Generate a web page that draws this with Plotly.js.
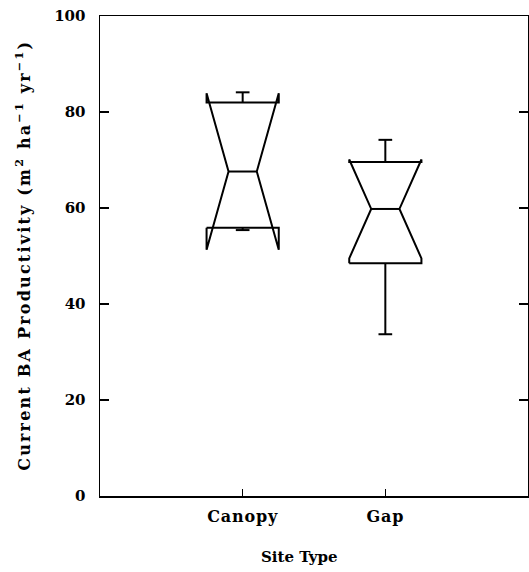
<!DOCTYPE html>
<html>
<head>
<meta charset="utf-8">
<script src="https://cdn.plot.ly/plotly-3.0.1.min.js"></script>
<style>
  html, body { margin: 0; padding: 0; background: #fff; }
  #chart { width: 529px; height: 572px; }
  /* typeset look: slightly open tracking on the value-axis title and the site labels */
  .annotation[data-index="0"] text { letter-spacing: 2.2px; }
  .xtick text { letter-spacing: 0.8px; }
</style>
</head>
<body>
<div id="chart"></div>
<script>
// Basal-area productivity by site type, summarised as notched box plots
const siteTypes   = ["Canopy", "Gap"];
const lowerFence  = [55.4, 33.7];
const q1Values    = [55.9, 48.5];
const medianVals  = [67.6, 59.8];
const q3Values    = [82.0, 69.6];
const upperFence  = [84.1, 74.2];
const notchSpans  = [16.3, 10.3];
const yTickVals   = [0, 20, 40, 60, 80, 100];
const yTickText   = ["0", "20", "40", "60", "80", "100"];

// glyph geometry, in category units of the x axis
const boxHalf = 0.253;   // half the box width
const medHalf = 0.099;   // half the median bar (waist of the notch)
const capHalf = 0.048;   // half the whisker cap

// Outline of one notched box: the notch runs from median - span to
// median + span, flaring past the hinges when it is wider than the box.
function boxPath(i) {
  const c = i;
  const q1 = q1Values[i], q3 = q3Values[i], med = medianVals[i];
  const lf = lowerFence[i], uf = upperFence[i];
  const ln = med - notchSpans[i], un = med + notchSpans[i];
  const L = c - boxHalf, R = c + boxHalf;
  const x = [
    L, L, c - medHalf, L, L, R, R, c + medHalf, R, R, L, null,
    c - medHalf, c + medHalf, null,
    c, c, null, c - capHalf, c + capHalf, null,
    c, c, null, c - capHalf, c + capHalf
  ];
  const y = [
    q1, ln, med, un, q3, q3, un, med, ln, q1, q1, null,
    med, med, null,
    q1, lf, null, lf, lf, null,
    q3, uf, null, uf, uf
  ];
  return {
    type: "scatter",
    mode: "lines",
    name: siteTypes[i],
    x: x,
    y: y,
    connectgaps: false,
    line: { color: "#000", width: 2 },
    hoverinfo: "skip",
    showlegend: false
  };
}

const traces = siteTypes.map((_, i) => boxPath(i));

const serifBold = (size) => ({ family: "DejaVu Serif, serif", size: size, color: "#000", weight: "bold" });

const layout = {
  width: 529,
  height: 572,
  margin: { l: 100, r: 1, t: 16, b: 76 },
  paper_bgcolor: "#fff",
  plot_bgcolor: "#fff",
  font: serifBold(15),
  showlegend: false,
  xaxis: {
    range: [-1, 2],
    tickvals: siteTypes.map((_, i) => i),
    ticktext: siteTypes,
    showline: true,
    linecolor: "#000",
    linewidth: 1.5,
    mirror: true,
    ticks: "inside",
    ticklen: 7,
    tickwidth: 1.2,
    tickcolor: "#000",
    ticklabelstandoff: 5,
    tickfont: serifBold(16),
    showgrid: false,
    zeroline: false,
    fixedrange: true
  },
  yaxis: {
    range: [0, 100],
    tickvals: yTickVals,
    ticktext: yTickText,
    showline: true,
    linecolor: "#000",
    linewidth: 1.5,
    mirror: "ticks",
    ticks: "inside",
    ticklen: 9,
    tickwidth: 1.2,
    tickcolor: "#000",
    ticklabelstandoff: 10,
    tickfont: serifBold(15),
    showgrid: false,
    zeroline: false,
    fixedrange: true
  },
  annotations: [
    {
      text: "Current BA Productivity (m<sup>2</sup> ha<sup>\u22121</sup> yr<sup>\u22121</sup>)",
      xref: "paper", yref: "paper",
      x: 0, y: 0.5,
      xshift: -77,
      xanchor: "center", yanchor: "middle",
      textangle: -90,
      showarrow: false,
      font: serifBold(16)
    },
    {
      text: "Site Type",
      xref: "paper", yref: "paper",
      x: 0.467, y: 0,
      yshift: -61,
      xanchor: "center", yanchor: "middle",
      showarrow: false,
      font: serifBold(15)
    }
  ]
};

Plotly.newPlot("chart", traces, layout, { displayModeBar: false, staticPlot: true });
</script>
</body>
</html>
